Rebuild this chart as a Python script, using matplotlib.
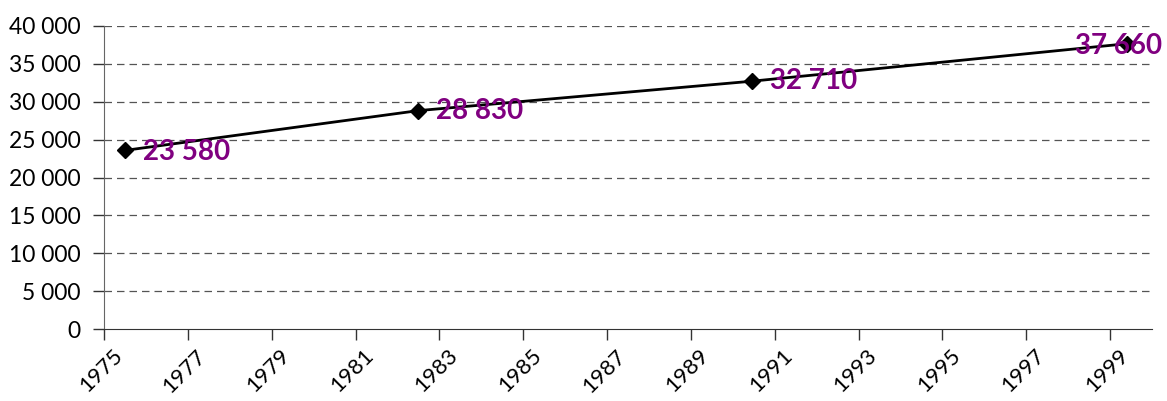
import matplotlib
matplotlib.use("Agg")
import matplotlib.pyplot as plt
from matplotlib.ticker import FuncFormatter
from matplotlib.transforms import ScaledTranslation

years = [1975.5, 1982.5, 1990.45, 1999.4]
values = [23580, 28830, 32710, 37660]
labels = ["23 580", "28 830", "32 710", "37 660"]
xticks = list(range(1975, 2000, 2))
yticks = list(range(0, 40001, 5000))

plt.rcParams['font.family'] = ['Lato', 'DejaVu Sans']

fig = plt.figure(figsize=(11.67, 4.01), dpi=100)
ax = fig.add_axes([104/1167, 1 - 329/401, (1152-104)/1167, (329-26)/401])

ax.plot(years, values, color='black', lw=2, marker='D', ms=8, mfc='black', mec='black', zorder=3)

offsets = [(18, -2), (18, 0), (18, 0), (-52, -2)]
for x, y, t, (dx, dy) in zip(years, values, labels, offsets):
    ax.annotate(t, (x, y), xytext=(dx, dy), textcoords='offset pixels',
                ha='left', va='center', color='#800080',
                fontsize=20, fontweight='bold', zorder=4)

ax.set_xlim(1975, 2000)
ax.set_ylim(0, 40000)
ax.set_xticks(xticks)
ax.set_yticks(yticks)
ax.yaxis.set_major_formatter(FuncFormatter(lambda v, p: f"{int(v):,}".replace(",", " ")))
ax.tick_params(axis='both', labelsize=16.5, color='#333333', length=8, width=1, direction='out')
ax.tick_params(axis='x', pad=4, labelsize=16)
ax.tick_params(axis='y', pad=9)
shift = ScaledTranslation(8/100, 0, fig.dpi_scale_trans)
for lab in ax.get_xticklabels():
    lab.set_rotation(45)
    lab.set_ha('right')
    lab.set_va('top')
    lab.set_rotation_mode('anchor')
    lab.set_transform(lab.get_transform() + shift)

for v in yticks[1:]:
    ax.axhline(v, color='#555555', lw=0.9, ls=(0, (6, 4)), zorder=1)

for s in ['top', 'right']:
    ax.spines[s].set_visible(False)
ax.spines['left'].set_color('#666666')
ax.spines['bottom'].set_color('#333333')

fig.savefig('out.png', dpi=100)
